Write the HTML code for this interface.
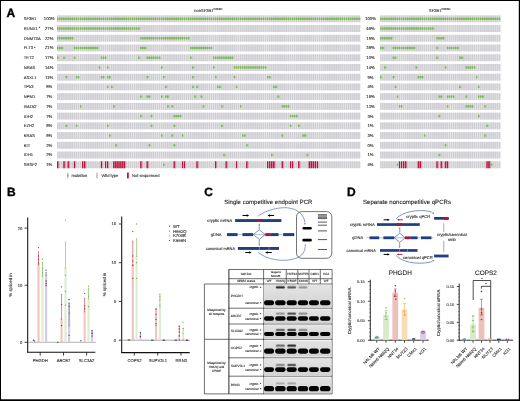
<!DOCTYPE html>
<html><head><meta charset="utf-8"><style>
html,body{margin:0;padding:0;background:#fff;}
svg{display:block;font-family:"Liberation Sans", sans-serif;will-change:transform;text-rendering:geometricPrecision;}
text{stroke:#222;stroke-width:0.1px;}
</style></head><body>
<svg width="520" height="401" viewBox="0 0 520 401">
<rect x="0" y="0" width="520" height="401" fill="#fff"/>
<defs>
<pattern id="gL" patternUnits="userSpaceOnUse" x="57.0" y="0" width="2.0781" height="401"><rect x="0" y="0" width="2.0781" height="401" fill="#e9e9eb"/><rect x="0" y="0" width="1.538" height="401" fill="#cfcfd4"/></pattern>
<pattern id="mL" patternUnits="userSpaceOnUse" x="57.0" y="0" width="2.0781" height="401"><rect x="0" y="0" width="1.662" height="401" fill="#76ba4c"/></pattern>
<pattern id="rL" patternUnits="userSpaceOnUse" x="57.0" y="0" width="2.0781" height="401"><rect x="0" y="0" width="1.538" height="401" fill="#c1123f"/></pattern>
<pattern id="gR" patternUnits="userSpaceOnUse" x="380.0" y="0" width="2.0828" height="401"><rect x="0" y="0" width="2.0828" height="401" fill="#e9e9eb"/><rect x="0" y="0" width="1.541" height="401" fill="#cfcfd4"/></pattern>
<pattern id="mR" patternUnits="userSpaceOnUse" x="380.0" y="0" width="2.0828" height="401"><rect x="0" y="0" width="1.666" height="401" fill="#76ba4c"/></pattern>
<pattern id="rR" patternUnits="userSpaceOnUse" x="380.0" y="0" width="2.0828" height="401"><rect x="0" y="0" width="1.541" height="401" fill="#c1123f"/></pattern>
</defs>
<rect x="57.0" y="15.30" width="303.40" height="7.0" fill="url(#gL)"/>
<rect x="380.0" y="15.30" width="120.80" height="7.0" fill="url(#gR)"/>
<rect x="57.000" y="17.65" width="303.400" height="2.3" fill="url(#mL)"/>
<rect x="380.000" y="17.65" width="120.800" height="2.3" fill="url(#mR)"/>
<text x="23.8" y="20.25" font-size="4.1" text-anchor="start" fill="#333" font-weight="normal" >SF3B1</text>
<text x="49.2" y="20.25" font-size="4.2" text-anchor="middle" fill="#333" font-weight="normal" >100%</text>
<text x="370.5" y="20.25" font-size="4.2" text-anchor="middle" fill="#333" font-weight="normal" >100%</text>
<rect x="57.0" y="25.03" width="303.40" height="7.0" fill="url(#gL)"/>
<rect x="380.0" y="25.03" width="120.80" height="7.0" fill="url(#gR)"/>
<rect x="57.000" y="27.38" width="83.123" height="2.3" fill="url(#mL)"/>
<rect x="380.000" y="27.38" width="54.152" height="2.3" fill="url(#mR)"/>
<text x="23.8" y="29.98" font-size="4.1" fill="#333">RUNX1<tspan font-size="3.4" dy="-0.9"> *</tspan></text>
<text x="49.2" y="29.98" font-size="4.2" text-anchor="middle" fill="#333" font-weight="normal" >27%</text>
<text x="370.5" y="29.98" font-size="4.2" text-anchor="middle" fill="#333" font-weight="normal" >46%</text>
<rect x="57.0" y="34.76" width="303.40" height="7.0" fill="url(#gL)"/>
<rect x="380.0" y="34.76" width="120.80" height="7.0" fill="url(#gR)"/>
<rect x="57.000" y="37.11" width="16.625" height="2.3" fill="url(#mL)"/>
<rect x="140.123" y="37.11" width="49.874" height="2.3" fill="url(#mL)"/>
<rect x="380.000" y="37.11" width="12.497" height="2.3" fill="url(#mR)"/>
<rect x="436.234" y="37.11" width="8.331" height="2.3" fill="url(#mR)"/>
<text x="23.8" y="39.71" font-size="4.1" text-anchor="start" fill="#333" font-weight="normal" >DNMT3A</text>
<text x="49.2" y="39.71" font-size="4.2" text-anchor="middle" fill="#333" font-weight="normal" >22%</text>
<text x="370.5" y="39.71" font-size="4.2" text-anchor="middle" fill="#333" font-weight="normal" >19%</text>
<rect x="57.0" y="44.49" width="303.40" height="7.0" fill="url(#gL)"/>
<rect x="380.0" y="44.49" width="120.80" height="7.0" fill="url(#gR)"/>
<rect x="57.000" y="46.84" width="6.234" height="2.3" fill="url(#mL)"/>
<rect x="73.625" y="46.84" width="24.937" height="2.3" fill="url(#mL)"/>
<rect x="140.123" y="46.84" width="6.234" height="2.3" fill="url(#mL)"/>
<rect x="189.997" y="46.84" width="22.859" height="2.3" fill="url(#mL)"/>
<rect x="380.000" y="46.84" width="4.166" height="2.3" fill="url(#mR)"/>
<rect x="392.497" y="46.84" width="22.910" height="2.3" fill="url(#mR)"/>
<rect x="436.234" y="46.84" width="2.083" height="2.3" fill="url(#mR)"/>
<rect x="446.648" y="46.84" width="12.497" height="2.3" fill="url(#mR)"/>
<text x="23.8" y="49.44" font-size="4.1" fill="#333">FLT3<tspan font-size="3.4" dy="-0.9"> *</tspan></text>
<text x="49.2" y="49.44" font-size="4.2" text-anchor="middle" fill="#333" font-weight="normal" >21%</text>
<text x="370.5" y="49.44" font-size="4.2" text-anchor="middle" fill="#333" font-weight="normal" >36%</text>
<rect x="57.0" y="54.22" width="303.40" height="7.0" fill="url(#gL)"/>
<rect x="380.0" y="54.22" width="120.80" height="7.0" fill="url(#gR)"/>
<rect x="57.000" y="56.57" width="2.078" height="2.3" fill="url(#mL)"/>
<rect x="63.234" y="56.57" width="2.078" height="2.3" fill="url(#mL)"/>
<rect x="73.625" y="56.57" width="2.078" height="2.3" fill="url(#mL)"/>
<rect x="100.640" y="56.57" width="6.234" height="2.3" fill="url(#mL)"/>
<rect x="138.045" y="56.57" width="2.078" height="2.3" fill="url(#mL)"/>
<rect x="146.358" y="56.57" width="14.547" height="2.3" fill="url(#mL)"/>
<rect x="189.997" y="56.57" width="2.078" height="2.3" fill="url(#mL)"/>
<rect x="212.856" y="56.57" width="20.781" height="2.3" fill="url(#mL)"/>
<rect x="392.497" y="56.57" width="4.166" height="2.3" fill="url(#mR)"/>
<rect x="436.234" y="56.57" width="2.083" height="2.3" fill="url(#mR)"/>
<rect x="459.145" y="56.57" width="4.166" height="2.3" fill="url(#mR)"/>
<text x="23.8" y="59.17" font-size="4.1" text-anchor="start" fill="#333" font-weight="normal" >TET2</text>
<text x="49.2" y="59.17" font-size="4.2" text-anchor="middle" fill="#333" font-weight="normal" >17%</text>
<text x="370.5" y="59.17" font-size="4.2" text-anchor="middle" fill="#333" font-weight="normal" >10%</text>
<rect x="57.0" y="63.95" width="303.40" height="7.0" fill="url(#gL)"/>
<rect x="380.0" y="63.95" width="120.80" height="7.0" fill="url(#gR)"/>
<rect x="98.562" y="66.30" width="2.078" height="2.3" fill="url(#mL)"/>
<rect x="106.874" y="66.30" width="2.078" height="2.3" fill="url(#mL)"/>
<rect x="160.904" y="66.30" width="2.078" height="2.3" fill="url(#mL)"/>
<rect x="192.075" y="66.30" width="2.078" height="2.3" fill="url(#mL)"/>
<rect x="212.856" y="66.30" width="2.078" height="2.3" fill="url(#mL)"/>
<rect x="233.637" y="66.30" width="33.249" height="2.3" fill="url(#mL)"/>
<rect x="384.166" y="66.30" width="2.083" height="2.3" fill="url(#mR)"/>
<rect x="415.407" y="66.30" width="2.083" height="2.3" fill="url(#mR)"/>
<rect x="444.566" y="66.30" width="2.083" height="2.3" fill="url(#mR)"/>
<rect x="465.393" y="66.30" width="10.414" height="2.3" fill="url(#mR)"/>
<text x="23.8" y="68.90" font-size="4.1" text-anchor="start" fill="#333" font-weight="normal" >NRAS</text>
<text x="49.2" y="68.90" font-size="4.2" text-anchor="middle" fill="#333" font-weight="normal" >14%</text>
<text x="370.5" y="68.90" font-size="4.2" text-anchor="middle" fill="#333" font-weight="normal" >14%</text>
<rect x="57.0" y="73.68" width="303.40" height="7.0" fill="url(#gL)"/>
<rect x="380.0" y="73.68" width="120.80" height="7.0" fill="url(#gR)"/>
<rect x="65.312" y="76.03" width="2.078" height="2.3" fill="url(#mL)"/>
<rect x="75.703" y="76.03" width="4.156" height="2.3" fill="url(#mL)"/>
<rect x="100.640" y="76.03" width="4.156" height="2.3" fill="url(#mL)"/>
<rect x="106.874" y="76.03" width="4.156" height="2.3" fill="url(#mL)"/>
<rect x="146.358" y="76.03" width="2.078" height="2.3" fill="url(#mL)"/>
<rect x="162.982" y="76.03" width="2.078" height="2.3" fill="url(#mL)"/>
<rect x="192.075" y="76.03" width="2.078" height="2.3" fill="url(#mL)"/>
<rect x="214.934" y="76.03" width="2.078" height="2.3" fill="url(#mL)"/>
<rect x="233.637" y="76.03" width="2.078" height="2.3" fill="url(#mL)"/>
<rect x="266.886" y="76.03" width="4.156" height="2.3" fill="url(#mL)"/>
<rect x="380.000" y="76.03" width="2.083" height="2.3" fill="url(#mR)"/>
<rect x="392.497" y="76.03" width="2.083" height="2.3" fill="url(#mR)"/>
<rect x="417.490" y="76.03" width="6.248" height="2.3" fill="url(#mR)"/>
<rect x="475.807" y="76.03" width="2.083" height="2.3" fill="url(#mR)"/>
<text x="23.8" y="78.63" font-size="4.1" text-anchor="start" fill="#333" font-weight="normal" >ASXL1</text>
<text x="49.2" y="78.63" font-size="4.2" text-anchor="middle" fill="#333" font-weight="normal" >11%</text>
<text x="370.5" y="78.63" font-size="4.2" text-anchor="middle" fill="#333" font-weight="normal" >9%</text>
<rect x="57.0" y="83.41" width="303.40" height="7.0" fill="url(#gL)"/>
<rect x="380.0" y="83.41" width="120.80" height="7.0" fill="url(#gR)"/>
<rect x="106.874" y="85.76" width="2.078" height="2.3" fill="url(#mL)"/>
<rect x="111.030" y="85.76" width="2.078" height="2.3" fill="url(#mL)"/>
<rect x="165.060" y="85.76" width="2.078" height="2.3" fill="url(#mL)"/>
<rect x="192.075" y="85.76" width="2.078" height="2.3" fill="url(#mL)"/>
<rect x="196.232" y="85.76" width="2.078" height="2.3" fill="url(#mL)"/>
<rect x="217.012" y="85.76" width="4.156" height="2.3" fill="url(#mL)"/>
<rect x="235.715" y="85.76" width="2.078" height="2.3" fill="url(#mL)"/>
<rect x="273.121" y="85.76" width="4.156" height="2.3" fill="url(#mL)"/>
<rect x="394.579" y="85.76" width="2.083" height="2.3" fill="url(#mR)"/>
<rect x="459.145" y="85.76" width="2.083" height="2.3" fill="url(#mR)"/>
<rect x="477.890" y="85.76" width="2.083" height="2.3" fill="url(#mR)"/>
<text x="23.8" y="88.36" font-size="4.1" text-anchor="start" fill="#333" font-weight="normal" >TP53</text>
<text x="49.2" y="88.36" font-size="4.2" text-anchor="middle" fill="#333" font-weight="normal" >8%</text>
<text x="370.5" y="88.36" font-size="4.2" text-anchor="middle" fill="#333" font-weight="normal" >4%</text>
<rect x="57.0" y="93.14" width="303.40" height="7.0" fill="url(#gL)"/>
<rect x="380.0" y="93.14" width="120.80" height="7.0" fill="url(#gR)"/>
<rect x="140.123" y="95.49" width="2.078" height="2.3" fill="url(#mL)"/>
<rect x="146.358" y="95.49" width="4.156" height="2.3" fill="url(#mL)"/>
<rect x="160.904" y="95.49" width="2.078" height="2.3" fill="url(#mL)"/>
<rect x="165.060" y="95.49" width="4.156" height="2.3" fill="url(#mL)"/>
<rect x="194.153" y="95.49" width="2.078" height="2.3" fill="url(#mL)"/>
<rect x="200.388" y="95.49" width="2.078" height="2.3" fill="url(#mL)"/>
<rect x="277.277" y="95.49" width="2.078" height="2.3" fill="url(#mL)"/>
<rect x="396.662" y="95.49" width="2.083" height="2.3" fill="url(#mR)"/>
<rect x="438.317" y="95.49" width="4.166" height="2.3" fill="url(#mR)"/>
<rect x="446.648" y="95.49" width="8.331" height="2.3" fill="url(#mR)"/>
<rect x="465.393" y="95.49" width="2.083" height="2.3" fill="url(#mR)"/>
<rect x="477.890" y="95.49" width="6.248" height="2.3" fill="url(#mR)"/>
<text x="23.8" y="98.09" font-size="4.1" text-anchor="start" fill="#333" font-weight="normal" >NPM1</text>
<text x="49.2" y="98.09" font-size="4.2" text-anchor="middle" fill="#333" font-weight="normal" >7%</text>
<text x="370.5" y="98.09" font-size="4.2" text-anchor="middle" fill="#333" font-weight="normal" >16%</text>
<rect x="57.0" y="102.87" width="303.40" height="7.0" fill="url(#gL)"/>
<rect x="380.0" y="102.87" width="120.80" height="7.0" fill="url(#gR)"/>
<rect x="79.859" y="105.22" width="2.078" height="2.3" fill="url(#mL)"/>
<rect x="113.108" y="105.22" width="2.078" height="2.3" fill="url(#mL)"/>
<rect x="167.138" y="105.22" width="2.078" height="2.3" fill="url(#mL)"/>
<rect x="171.295" y="105.22" width="2.078" height="2.3" fill="url(#mL)"/>
<rect x="202.466" y="105.22" width="2.078" height="2.3" fill="url(#mL)"/>
<rect x="221.168" y="105.22" width="2.078" height="2.3" fill="url(#mL)"/>
<rect x="239.871" y="105.22" width="2.078" height="2.3" fill="url(#mL)"/>
<rect x="281.433" y="105.22" width="8.312" height="2.3" fill="url(#mL)"/>
<rect x="398.745" y="105.22" width="4.166" height="2.3" fill="url(#mR)"/>
<rect x="446.648" y="105.22" width="2.083" height="2.3" fill="url(#mR)"/>
<rect x="465.393" y="105.22" width="8.331" height="2.3" fill="url(#mR)"/>
<rect x="484.138" y="105.22" width="2.083" height="2.3" fill="url(#mR)"/>
<text x="23.8" y="107.82" font-size="4.1" text-anchor="start" fill="#333" font-weight="normal" >GATA2</text>
<text x="49.2" y="107.82" font-size="4.2" text-anchor="middle" fill="#333" font-weight="normal" >7%</text>
<text x="370.5" y="107.82" font-size="4.2" text-anchor="middle" fill="#333" font-weight="normal" >13%</text>
<rect x="57.0" y="112.60" width="303.40" height="7.0" fill="url(#gL)"/>
<rect x="380.0" y="112.60" width="120.80" height="7.0" fill="url(#gR)"/>
<rect x="140.123" y="114.95" width="2.078" height="2.3" fill="url(#mL)"/>
<rect x="150.514" y="114.95" width="2.078" height="2.3" fill="url(#mL)"/>
<rect x="173.373" y="114.95" width="8.312" height="2.3" fill="url(#mL)"/>
<rect x="289.745" y="114.95" width="8.312" height="2.3" fill="url(#mL)"/>
<rect x="438.317" y="114.95" width="2.083" height="2.3" fill="url(#mR)"/>
<rect x="477.890" y="114.95" width="2.083" height="2.3" fill="url(#mR)"/>
<text x="23.8" y="117.55" font-size="4.1" text-anchor="start" fill="#333" font-weight="normal" >IDH2</text>
<text x="49.2" y="117.55" font-size="4.2" text-anchor="middle" fill="#333" font-weight="normal" >7%</text>
<text x="370.5" y="117.55" font-size="4.2" text-anchor="middle" fill="#333" font-weight="normal" >3%</text>
<rect x="57.0" y="122.33" width="303.40" height="7.0" fill="url(#gL)"/>
<rect x="380.0" y="122.33" width="120.80" height="7.0" fill="url(#gR)"/>
<rect x="65.312" y="124.68" width="2.078" height="2.3" fill="url(#mL)"/>
<rect x="75.703" y="124.68" width="2.078" height="2.3" fill="url(#mL)"/>
<rect x="106.874" y="124.68" width="2.078" height="2.3" fill="url(#mL)"/>
<rect x="150.514" y="124.68" width="2.078" height="2.3" fill="url(#mL)"/>
<rect x="173.373" y="124.68" width="2.078" height="2.3" fill="url(#mL)"/>
<rect x="221.168" y="124.68" width="2.078" height="2.3" fill="url(#mL)"/>
<rect x="289.745" y="124.68" width="2.078" height="2.3" fill="url(#mL)"/>
<rect x="298.058" y="124.68" width="2.078" height="2.3" fill="url(#mL)"/>
<rect x="486.221" y="124.68" width="2.083" height="2.3" fill="url(#mR)"/>
<text x="23.8" y="127.28" font-size="4.1" text-anchor="start" fill="#333" font-weight="normal" >EZH2</text>
<text x="49.2" y="127.28" font-size="4.2" text-anchor="middle" fill="#333" font-weight="normal" >6%</text>
<text x="370.5" y="127.28" font-size="4.2" text-anchor="middle" fill="#333" font-weight="normal" >1%</text>
<rect x="57.0" y="132.06" width="303.40" height="7.0" fill="url(#gL)"/>
<rect x="380.0" y="132.06" width="120.80" height="7.0" fill="url(#gR)"/>
<rect x="108.952" y="134.41" width="2.078" height="2.3" fill="url(#mL)"/>
<rect x="160.904" y="134.41" width="2.078" height="2.3" fill="url(#mL)"/>
<rect x="171.295" y="134.41" width="2.078" height="2.3" fill="url(#mL)"/>
<rect x="181.685" y="134.41" width="2.078" height="2.3" fill="url(#mL)"/>
<rect x="241.949" y="134.41" width="4.156" height="2.3" fill="url(#mL)"/>
<rect x="281.433" y="134.41" width="2.078" height="2.3" fill="url(#mL)"/>
<rect x="302.214" y="134.41" width="4.156" height="2.3" fill="url(#mL)"/>
<rect x="423.738" y="134.41" width="2.083" height="2.3" fill="url(#mR)"/>
<rect x="484.138" y="134.41" width="2.083" height="2.3" fill="url(#mR)"/>
<text x="23.8" y="137.01" font-size="4.1" text-anchor="start" fill="#333" font-weight="normal" >KRAS</text>
<text x="49.2" y="137.01" font-size="4.2" text-anchor="middle" fill="#333" font-weight="normal" >6%</text>
<text x="370.5" y="137.01" font-size="4.2" text-anchor="middle" fill="#333" font-weight="normal" >3%</text>
<rect x="57.0" y="141.79" width="303.40" height="7.0" fill="url(#gL)"/>
<rect x="380.0" y="141.79" width="120.80" height="7.0" fill="url(#gR)"/>
<rect x="115.186" y="144.14" width="2.078" height="2.3" fill="url(#mL)"/>
<rect x="148.436" y="144.14" width="2.078" height="2.3" fill="url(#mL)"/>
<rect x="173.373" y="144.14" width="2.078" height="2.3" fill="url(#mL)"/>
<rect x="246.105" y="144.14" width="2.078" height="2.3" fill="url(#mL)"/>
<rect x="444.566" y="144.14" width="2.083" height="2.3" fill="url(#mR)"/>
<text x="23.8" y="146.74" font-size="4.1" text-anchor="start" fill="#333" font-weight="normal" >KIT</text>
<text x="49.2" y="146.74" font-size="4.2" text-anchor="middle" fill="#333" font-weight="normal" >2%</text>
<text x="370.5" y="146.74" font-size="4.2" text-anchor="middle" fill="#333" font-weight="normal" >0%</text>
<rect x="57.0" y="151.52" width="303.40" height="7.0" fill="url(#gL)"/>
<rect x="380.0" y="151.52" width="120.80" height="7.0" fill="url(#gR)"/>
<rect x="223.247" y="153.87" width="2.078" height="2.3" fill="url(#mL)"/>
<rect x="271.042" y="153.87" width="2.078" height="2.3" fill="url(#mL)"/>
<rect x="306.370" y="153.87" width="2.078" height="2.3" fill="url(#mL)"/>
<rect x="438.317" y="153.87" width="2.083" height="2.3" fill="url(#mR)"/>
<text x="23.8" y="156.47" font-size="4.1" text-anchor="start" fill="#333" font-weight="normal" >IDH1</text>
<text x="49.2" y="156.47" font-size="4.2" text-anchor="middle" fill="#333" font-weight="normal" >2%</text>
<text x="370.5" y="156.47" font-size="4.2" text-anchor="middle" fill="#333" font-weight="normal" >1%</text>
<rect x="57.0" y="161.25" width="303.40" height="7.0" fill="url(#gL)"/>
<rect x="380.0" y="161.25" width="120.80" height="7.0" fill="url(#gR)"/>
<rect x="57.000" y="161.25" width="2.078" height="7.0" fill="url(#rL)"/>
<rect x="63.234" y="161.25" width="2.078" height="7.0" fill="url(#rL)"/>
<rect x="67.390" y="161.25" width="2.078" height="7.0" fill="url(#rL)"/>
<rect x="73.625" y="161.25" width="2.078" height="7.0" fill="url(#rL)"/>
<rect x="81.937" y="161.25" width="4.156" height="7.0" fill="url(#rL)"/>
<rect x="100.640" y="161.25" width="2.078" height="7.0" fill="url(#rL)"/>
<rect x="104.796" y="161.25" width="4.156" height="7.0" fill="url(#rL)"/>
<rect x="113.108" y="161.25" width="12.468" height="7.0" fill="url(#rL)"/>
<rect x="140.123" y="161.25" width="2.078" height="7.0" fill="url(#rL)"/>
<rect x="146.358" y="161.25" width="2.078" height="7.0" fill="url(#rL)"/>
<rect x="173.373" y="161.25" width="2.078" height="7.0" fill="url(#rL)"/>
<rect x="181.685" y="161.25" width="4.156" height="7.0" fill="url(#rL)"/>
<rect x="196.232" y="161.25" width="2.078" height="7.0" fill="url(#rL)"/>
<rect x="214.934" y="161.25" width="2.078" height="7.0" fill="url(#rL)"/>
<rect x="225.325" y="161.25" width="2.078" height="7.0" fill="url(#rL)"/>
<rect x="235.715" y="161.25" width="2.078" height="7.0" fill="url(#rL)"/>
<rect x="246.105" y="161.25" width="2.078" height="7.0" fill="url(#rL)"/>
<rect x="266.886" y="161.25" width="8.312" height="7.0" fill="url(#rL)"/>
<rect x="281.433" y="161.25" width="2.078" height="7.0" fill="url(#rL)"/>
<rect x="289.745" y="161.25" width="4.156" height="7.0" fill="url(#rL)"/>
<rect x="298.058" y="161.25" width="2.078" height="7.0" fill="url(#rL)"/>
<rect x="308.448" y="161.25" width="10.390" height="7.0" fill="url(#rL)"/>
<rect x="162.982" y="163.60" width="2.078" height="2.3" fill="url(#mL)"/>
<rect x="398.745" y="161.25" width="8.331" height="7.0" fill="url(#rR)"/>
<rect x="417.490" y="161.25" width="4.166" height="7.0" fill="url(#rR)"/>
<rect x="436.234" y="161.25" width="2.083" height="7.0" fill="url(#rR)"/>
<rect x="440.400" y="161.25" width="2.083" height="7.0" fill="url(#rR)"/>
<rect x="444.566" y="161.25" width="4.166" height="7.0" fill="url(#rR)"/>
<rect x="486.221" y="161.25" width="4.166" height="7.0" fill="url(#rR)"/>
<rect x="396.662" y="163.60" width="2.083" height="2.3" fill="url(#mR)"/>
<rect x="490.386" y="163.60" width="2.083" height="2.3" fill="url(#mR)"/>
<text x="23.8" y="166.20" font-size="4.1" text-anchor="start" fill="#333" font-weight="normal" >SRSF2</text>
<text x="49.2" y="166.20" font-size="4.2" text-anchor="middle" fill="#333" font-weight="normal" >1%</text>
<text x="370.5" y="166.20" font-size="4.2" text-anchor="middle" fill="#333" font-weight="normal" >4%</text>
<text x="194.2" y="12" font-size="4.1" fill="#333">nonSF3B1<tspan font-size="2.9" dy="-2.2">K666N</tspan></text>
<text x="429" y="12.4" font-size="4.1" fill="#333">SF3B1<tspan font-size="2.9" dy="-2.2">K666N</tspan></text>
<rect x="67" y="172.6" width="1.5" height="5.8" fill="#cfcfd4"/><rect x="67" y="174.4" width="1.5" height="2.2" fill="#76ba4c"/>
<text x="71.5" y="177.0" font-size="4.1" text-anchor="start" fill="#333" font-weight="normal" >mutation</text>
<rect x="96.2" y="172.6" width="1.5" height="5.8" fill="#bdbdc2"/>
<text x="101.5" y="177.0" font-size="4.1" text-anchor="start" fill="#333" font-weight="normal" >Wild type</text>
<rect x="127" y="172.6" width="1.8" height="5.8" fill="#c1123f"/>
<text x="132" y="177.0" font-size="4.1" text-anchor="start" fill="#333" font-weight="normal" >Not sequenced</text>
<text x="6.5" y="16.5" font-size="12" font-weight="bold" fill="#000" style="stroke:#000;stroke-width:0.35px">A</text>
<text x="6.9" y="196.1" font-size="12" font-weight="bold" fill="#000" style="stroke:#000;stroke-width:0.35px">B</text>
<text x="204.3" y="195.8" font-size="12" font-weight="bold" fill="#000" style="stroke:#000;stroke-width:0.35px">C</text>
<text x="346.9" y="195.6" font-size="12" font-weight="bold" fill="#000" style="stroke:#000;stroke-width:0.35px">D</text>
<line x1="27.7" y1="217.4" x2="27.7" y2="352.6" stroke="#111" stroke-width="1.05"/>
<line x1="27.25" y1="352.2" x2="95.4" y2="352.2" stroke="#111" stroke-width="1.05"/>
<line x1="24.6" y1="228.1" x2="27.7" y2="228.1" stroke="#111" stroke-width="0.8"/>
<text x="22.4" y="229.54999999999998" font-size="4.15" text-anchor="end" fill="#333" font-weight="normal" >20</text>
<line x1="24.6" y1="285.2" x2="27.7" y2="285.2" stroke="#111" stroke-width="0.8"/>
<text x="22.4" y="286.65" font-size="4.15" text-anchor="end" fill="#333" font-weight="normal" >10</text>
<line x1="24.6" y1="342.3" x2="27.7" y2="342.3" stroke="#111" stroke-width="0.8"/>
<text x="22.4" y="343.75" font-size="4.15" text-anchor="end" fill="#333" font-weight="normal" >0</text>
<line x1="27.7" y1="342.3" x2="95.8" y2="342.3" stroke="#808080" stroke-width="0.6"/>
<line x1="40.2" y1="352.2" x2="40.2" y2="355.6" stroke="#111" stroke-width="0.8"/>
<text x="40.2" y="361.8" font-size="4.2" text-anchor="middle" fill="#333" font-weight="normal" >PHGDH</text>
<line x1="63.5" y1="352.2" x2="63.5" y2="355.6" stroke="#111" stroke-width="0.8"/>
<text x="63.5" y="361.8" font-size="4.2" text-anchor="middle" fill="#333" font-weight="normal" >ABCB7</text>
<line x1="86.6" y1="352.2" x2="86.6" y2="355.6" stroke="#111" stroke-width="0.8"/>
<text x="86.6" y="361.8" font-size="4.2" text-anchor="middle" fill="#333" font-weight="normal" >SLC3A2</text>
<text x="0" y="0" font-size="4.4" fill="#333" text-anchor="middle" transform="translate(11.7,285) rotate(-90)">% spliced in</text>
<rect x="37.4" y="263.7" width="2.2" height="78.60" fill="#efc6bd"/>
<line x1="38.5" y1="251.8" x2="38.5" y2="265.2" stroke="#c0203c" stroke-width="0.55"/>
<line x1="37.9" y1="251.8" x2="39.1" y2="251.8" stroke="#c0203c" stroke-width="0.5"/>
<circle cx="38.5" cy="247.6" r="0.65" fill="#c0203c"/>
<circle cx="38.5" cy="256" r="0.65" fill="#c0203c"/>
<circle cx="38.5" cy="259.5" r="0.65" fill="#c0203c"/>
<circle cx="38.5" cy="263" r="0.65" fill="#c0203c"/>
<rect x="41.4" y="273.3" width="2.2" height="69.00" fill="#deedcf"/>
<line x1="42.5" y1="262.0" x2="42.5" y2="274.8" stroke="#6cb33f" stroke-width="0.55"/>
<line x1="41.9" y1="262.0" x2="43.1" y2="262.0" stroke="#6cb33f" stroke-width="0.5"/>
<circle cx="42.5" cy="259" r="0.65" fill="#6cb33f"/>
<circle cx="42.5" cy="268.5" r="0.65" fill="#6cb33f"/>
<circle cx="42.5" cy="272.7" r="0.65" fill="#6cb33f"/>
<circle cx="42.5" cy="276" r="0.65" fill="#6cb33f"/>
<rect x="45.0" y="274.5" width="2.2" height="67.80" fill="#d6cbe5"/>
<line x1="46.1" y1="272.5" x2="46.1" y2="276.0" stroke="#4a2a85" stroke-width="0.55"/>
<line x1="45.5" y1="272.5" x2="46.7" y2="272.5" stroke="#4a2a85" stroke-width="0.5"/>
<circle cx="46.1" cy="270.2" r="0.65" fill="#4a2a85"/>
<circle cx="46.1" cy="281" r="0.65" fill="#4a2a85"/>
<circle cx="46.1" cy="283.5" r="0.65" fill="#4a2a85"/>
<circle cx="46.1" cy="285.5" r="0.65" fill="#4a2a85"/>
<circle cx="33.4" cy="340.2" r="0.7" fill="#2d4d9c"/>
<circle cx="34.6" cy="340.9" r="0.7" fill="#2d4d9c"/>
<rect x="60.5" y="318.2" width="2.1" height="24.10" fill="#efc6bd"/>
<line x1="61.55" y1="294.3" x2="61.55" y2="319.7" stroke="#c0203c" stroke-width="0.55"/>
<line x1="60.949999999999996" y1="294.3" x2="62.15" y2="294.3" stroke="#c0203c" stroke-width="0.5"/>
<circle cx="61.55" cy="286.8" r="0.65" fill="#c0203c"/>
<circle cx="61.55" cy="304.4" r="0.65" fill="#c0203c"/>
<circle cx="61.55" cy="325.5" r="0.65" fill="#c0203c"/>
<rect x="64.4" y="267.4" width="2.2" height="74.90" fill="#deedcf"/>
<line x1="65.5" y1="242.0" x2="65.5" y2="268.9" stroke="#6cb33f" stroke-width="0.55"/>
<line x1="64.9" y1="242.0" x2="66.1" y2="242.0" stroke="#6cb33f" stroke-width="0.5"/>
<circle cx="65.5" cy="220.2" r="0.65" fill="#6cb33f"/>
<circle cx="65.5" cy="275.2" r="0.65" fill="#6cb33f"/>
<circle cx="65.5" cy="291.4" r="0.65" fill="#6cb33f"/>
<circle cx="65.5" cy="305.2" r="0.65" fill="#6cb33f"/>
<rect x="68.0" y="312.5" width="2.2" height="29.80" fill="#d6cbe5"/>
<line x1="69.1" y1="302.8" x2="69.1" y2="314.0" stroke="#4a2a85" stroke-width="0.55"/>
<line x1="68.5" y1="302.8" x2="69.69999999999999" y2="302.8" stroke="#4a2a85" stroke-width="0.5"/>
<circle cx="69.1" cy="299.5" r="0.65" fill="#4a2a85"/>
<circle cx="69.1" cy="306.3" r="0.65" fill="#4a2a85"/>
<circle cx="69.1" cy="335.3" r="0.65" fill="#4a2a85"/>
<line x1="69.1" y1="302.8" x2="69.1" y2="327" stroke="#7d62a8" stroke-width="0.5"/>
<circle cx="57.7" cy="342.2" r="0.7" fill="#2d4d9c"/>
<rect x="83.6" y="310.8" width="2.1" height="31.50" fill="#efc6bd"/>
<line x1="84.64999999999999" y1="298.2" x2="84.64999999999999" y2="312.3" stroke="#c0203c" stroke-width="0.55"/>
<line x1="84.05" y1="298.2" x2="85.24999999999999" y2="298.2" stroke="#c0203c" stroke-width="0.5"/>
<circle cx="84.64999999999999" cy="293.3" r="0.65" fill="#c0203c"/>
<circle cx="84.64999999999999" cy="306" r="0.65" fill="#c0203c"/>
<circle cx="84.64999999999999" cy="309" r="0.65" fill="#c0203c"/>
<rect x="87.4" y="298.0" width="2.2" height="44.30" fill="#deedcf"/>
<line x1="88.5" y1="288.0" x2="88.5" y2="299.5" stroke="#6cb33f" stroke-width="0.55"/>
<line x1="87.9" y1="288.0" x2="89.1" y2="288.0" stroke="#6cb33f" stroke-width="0.5"/>
<circle cx="88.5" cy="286.2" r="0.65" fill="#6cb33f"/>
<circle cx="88.5" cy="296.2" r="0.65" fill="#6cb33f"/>
<circle cx="88.5" cy="306.7" r="0.65" fill="#6cb33f"/>
<rect x="91.0" y="331.9" width="2.2" height="10.40" fill="#d6cbe5"/>
<line x1="92.1" y1="330.6" x2="92.1" y2="333.4" stroke="#4a2a85" stroke-width="0.55"/>
<line x1="91.5" y1="330.6" x2="92.69999999999999" y2="330.6" stroke="#4a2a85" stroke-width="0.5"/>
<circle cx="92.1" cy="330.6" r="0.65" fill="#4a2a85"/>
<circle cx="92.1" cy="333.5" r="0.65" fill="#4a2a85"/>
<circle cx="92.1" cy="336" r="0.65" fill="#4a2a85"/>
<circle cx="80.9" cy="340.8" r="0.7" fill="#2d4d9c"/>
<line x1="121.7" y1="216.4" x2="121.7" y2="353.0" stroke="#111" stroke-width="1.05"/>
<line x1="121.25" y1="352.6" x2="189.7" y2="352.6" stroke="#111" stroke-width="1.05"/>
<line x1="118.8" y1="224.0" x2="121.7" y2="224.0" stroke="#111" stroke-width="0.8"/>
<text x="116.0" y="225.45" font-size="4.15" text-anchor="end" fill="#333" font-weight="normal" >15</text>
<line x1="118.8" y1="262.7" x2="121.7" y2="262.7" stroke="#111" stroke-width="0.8"/>
<text x="116.0" y="264.15" font-size="4.15" text-anchor="end" fill="#333" font-weight="normal" >10</text>
<line x1="118.8" y1="301.4" x2="121.7" y2="301.4" stroke="#111" stroke-width="0.8"/>
<text x="116.0" y="302.84999999999997" font-size="4.15" text-anchor="end" fill="#333" font-weight="normal" >5</text>
<line x1="118.8" y1="340.2" x2="121.7" y2="340.2" stroke="#111" stroke-width="0.8"/>
<text x="116.0" y="341.65" font-size="4.15" text-anchor="end" fill="#333" font-weight="normal" >0</text>
<line x1="121.7" y1="340.2" x2="189.9" y2="340.2" stroke="#808080" stroke-width="0.7"/>
<line x1="134.3" y1="352.6" x2="134.3" y2="355.6" stroke="#111" stroke-width="0.8"/>
<text x="134.60000000000002" y="362.0" font-size="4.2" text-anchor="middle" fill="#333" font-weight="normal" >COPS2</text>
<line x1="157.7" y1="352.6" x2="157.7" y2="355.6" stroke="#111" stroke-width="0.8"/>
<text x="158.0" y="362.0" font-size="4.2" text-anchor="middle" fill="#333" font-weight="normal" >SUPV3L1</text>
<line x1="181.0" y1="352.6" x2="181.0" y2="355.6" stroke="#111" stroke-width="0.8"/>
<text x="181.3" y="362.0" font-size="4.2" text-anchor="middle" fill="#333" font-weight="normal" >RRN3</text>
<text x="0" y="0" font-size="4.4" fill="#333" text-anchor="middle" transform="translate(106.0,284.5) rotate(-90)">% spliced in</text>
<rect x="131.7" y="264.0" width="2.2" height="76.20" fill="#efc6bd"/>
<line x1="132.79999999999998" y1="241.1" x2="132.79999999999998" y2="265.5" stroke="#c0203c" stroke-width="0.55"/>
<line x1="132.2" y1="241.1" x2="133.39999999999998" y2="241.1" stroke="#c0203c" stroke-width="0.5"/>
<circle cx="132.79999999999998" cy="231.6" r="0.65" fill="#c0203c"/>
<circle cx="132.79999999999998" cy="256" r="0.65" fill="#c0203c"/>
<circle cx="132.79999999999998" cy="261" r="0.65" fill="#c0203c"/>
<circle cx="132.79999999999998" cy="265.5" r="0.65" fill="#c0203c"/>
<circle cx="132.79999999999998" cy="278.3" r="0.65" fill="#c0203c"/>
<rect x="135.5" y="255.5" width="2.1" height="84.70" fill="#deedcf"/>
<line x1="136.55" y1="238.7" x2="136.55" y2="257.0" stroke="#6cb33f" stroke-width="0.55"/>
<line x1="135.95000000000002" y1="238.7" x2="137.15" y2="238.7" stroke="#6cb33f" stroke-width="0.5"/>
<circle cx="136.55" cy="224.0" r="0.65" fill="#6cb33f"/>
<circle cx="136.55" cy="262.7" r="0.65" fill="#6cb33f"/>
<circle cx="136.55" cy="278.3" r="0.65" fill="#6cb33f"/>
<rect x="139.6" y="336.0" width="1.6" height="4.20" fill="#d6cbe5"/>
<line x1="140.4" y1="333.0" x2="140.4" y2="337.5" stroke="#4a2a85" stroke-width="0.55"/>
<line x1="139.8" y1="333.0" x2="141.0" y2="333.0" stroke="#4a2a85" stroke-width="0.5"/>
<circle cx="140.4" cy="332.3" r="0.65" fill="#4a2a85"/>
<circle cx="140.4" cy="336.5" r="0.65" fill="#4a2a85"/>
<circle cx="128.3" cy="339.9" r="0.7" fill="#2d4d9c"/>
<circle cx="129.6" cy="339.9" r="0.7" fill="#2d4d9c"/>
<rect x="155.0" y="324.7" width="2.0" height="15.50" fill="#efc6bd"/>
<line x1="156.0" y1="309.0" x2="156.0" y2="326.2" stroke="#c0203c" stroke-width="0.55"/>
<line x1="155.4" y1="309.0" x2="156.6" y2="309.0" stroke="#c0203c" stroke-width="0.5"/>
<circle cx="156.0" cy="309" r="0.65" fill="#c0203c"/>
<circle cx="156.0" cy="314.2" r="0.65" fill="#c0203c"/>
<circle cx="156.0" cy="319.4" r="0.65" fill="#c0203c"/>
<circle cx="156.0" cy="323.6" r="0.65" fill="#c0203c"/>
<rect x="158.8" y="306.0" width="2.2" height="34.20" fill="#deedcf"/>
<line x1="159.9" y1="294.3" x2="159.9" y2="307.5" stroke="#6cb33f" stroke-width="0.55"/>
<line x1="159.3" y1="294.3" x2="160.5" y2="294.3" stroke="#6cb33f" stroke-width="0.5"/>
<circle cx="159.9" cy="294.3" r="0.65" fill="#6cb33f"/>
<circle cx="159.9" cy="297" r="0.65" fill="#6cb33f"/>
<circle cx="159.9" cy="300" r="0.65" fill="#6cb33f"/>
<circle cx="159.9" cy="305.2" r="0.65" fill="#6cb33f"/>
<circle cx="163.2" cy="340.2" r="0.7" fill="#4a2a85"/>
<circle cx="164.3" cy="340.2" r="0.7" fill="#4a2a85"/>
<circle cx="151.8" cy="340.2" r="0.7" fill="#2d4d9c"/>
<circle cx="152.9" cy="340.2" r="0.7" fill="#2d4d9c"/>
<rect x="178.5" y="335.0" width="1.6" height="5.20" fill="#efc6bd"/>
<line x1="179.3" y1="326.2" x2="179.3" y2="336.5" stroke="#c0203c" stroke-width="0.55"/>
<line x1="178.70000000000002" y1="326.2" x2="179.9" y2="326.2" stroke="#c0203c" stroke-width="0.5"/>
<circle cx="179.3" cy="326.2" r="0.65" fill="#c0203c"/>
<circle cx="179.3" cy="329" r="0.65" fill="#c0203c"/>
<circle cx="179.3" cy="332" r="0.65" fill="#c0203c"/>
<circle cx="179.3" cy="336" r="0.65" fill="#c0203c"/>
<circle cx="179.3" cy="340" r="0.65" fill="#c0203c"/>
<rect x="182.2" y="333.0" width="1.8" height="7.20" fill="#deedcf"/>
<line x1="183.1" y1="328.3" x2="183.1" y2="334.5" stroke="#6cb33f" stroke-width="0.55"/>
<line x1="182.5" y1="328.3" x2="183.7" y2="328.3" stroke="#6cb33f" stroke-width="0.5"/>
<circle cx="183.1" cy="322.2" r="0.65" fill="#6cb33f"/>
<circle cx="183.1" cy="328.3" r="0.65" fill="#6cb33f"/>
<circle cx="183.1" cy="340" r="0.65" fill="#6cb33f"/>
<circle cx="186.5" cy="340.2" r="0.7" fill="#4a2a85"/>
<circle cx="187.6" cy="340.2" r="0.7" fill="#4a2a85"/>
<circle cx="175.2" cy="340.2" r="0.7" fill="#2d4d9c"/>
<circle cx="176.3" cy="340.2" r="0.7" fill="#2d4d9c"/>
<circle cx="169.4" cy="226.2" r="0.6" fill="#2d4d9c"/>
<text x="173.0" y="227.75" font-size="4.3" text-anchor="start" fill="#333" font-weight="normal" >WT</text>
<circle cx="169.4" cy="231.0" r="0.6" fill="#c0203c"/>
<text x="173.0" y="232.55" font-size="4.3" text-anchor="start" fill="#333" font-weight="normal" >H662Q</text>
<circle cx="169.4" cy="235.79999999999998" r="0.6" fill="#6cb33f"/>
<text x="173.0" y="237.35" font-size="4.3" text-anchor="start" fill="#333" font-weight="normal" >K700E</text>
<circle cx="169.4" cy="240.6" r="0.6" fill="#4a2a85"/>
<text x="173.0" y="242.15" font-size="4.3" text-anchor="start" fill="#333" font-weight="normal" >K666N</text>
<text x="224.2" y="204.3" font-size="6.04" fill="#222">Single competitive endpoint PCR</text>
<text x="232.1" y="221.8" font-size="4.05" text-anchor="end" fill="#333" font-weight="normal" >cryptic mRNA</text>
<rect x="235.1" y="219.1" width="46.3" height="2.9" fill="#213f7d"/>
<rect x="256.7" y="219.1" width="5.3" height="2.9" fill="#b3122e"/>
<line x1="242.6" y1="215.5" x2="247.29999999999998" y2="215.5" stroke="#000" stroke-width="1.0"/>
<path d="M249.20,215.50 L246.73,216.64 L246.73,214.36 Z" fill="#000"/>
<line x1="274.1" y1="215.5" x2="269.4" y2="215.5" stroke="#000" stroke-width="1.0"/>
<path d="M267.50,215.50 L269.97,214.36 L269.97,216.64 Z" fill="#000"/>
<text x="221.5" y="235.7" font-size="4.05" text-anchor="end" fill="#333" font-weight="normal" >gDNA</text>
<line x1="227" y1="234.6" x2="294.5" y2="234.6" stroke="#8ea3c9" stroke-width="0.7"/>
<rect x="227" y="233.1" width="10.50" height="3.0" fill="#213f7d"/>
<rect x="242.5" y="233.1" width="10.50" height="3.0" fill="#213f7d"/>
<rect x="265.3" y="233.1" width="5.50" height="3.0" fill="#b3122e"/>
<rect x="270.8" y="233.1" width="7.80" height="3.0" fill="#213f7d"/>
<rect x="283.2" y="233.1" width="11.00" height="3.0" fill="#213f7d"/>
<path d="M253,234.6 L259.3,229.9 L265.3,234.6 L259.3,239.3 Z" fill="none" stroke="#213f7d" stroke-width="0.55"/>
<line x1="259.2" y1="229.4" x2="259.2" y2="224.8" stroke="#213f7d" stroke-width="0.55"/>
<path d="M259.20,223.40 L259.86,224.83 L258.54,224.83 Z" fill="#213f7d"/>
<line x1="259.2" y1="239.8" x2="259.2" y2="244.6" stroke="#213f7d" stroke-width="0.55"/>
<path d="M259.20,246.00 L258.54,244.57 L259.86,244.57 Z" fill="#213f7d"/>
<text x="235.1" y="250.1" font-size="3.95" text-anchor="end" fill="#333" font-weight="normal" >canonical mRNA</text>
<rect x="237.9" y="247.0" width="41.1" height="2.9" fill="#213f7d"/>
<line x1="259.3" y1="247" x2="259.3" y2="249.9" stroke="#fff" stroke-width="0.35"/>
<line x1="269.0" y1="247" x2="269.0" y2="249.9" stroke="#fff" stroke-width="0.35"/>
<line x1="245.2" y1="252.5" x2="249.7" y2="252.5" stroke="#000" stroke-width="1.0"/>
<path d="M251.60,252.50 L249.13,253.64 L249.13,251.36 Z" fill="#000"/>
<line x1="271.8" y1="252.5" x2="267.09999999999997" y2="252.5" stroke="#000" stroke-width="1.0"/>
<path d="M265.20,252.50 L267.67,251.36 L267.67,253.64 Z" fill="#000"/>
<path d="M258.1,216.1 C268,208.8 289,203.5 299.3,212.3 C302.6,215.3 304.6,218.5 304.9,222.6" fill="none" stroke="#3b5a98" stroke-width="0.6"/>
<path d="M305.00,225.00 L304.14,223.35 L305.69,223.27 Z" fill="#3b5a98"/>
<path d="M258.0,252.2 C266,259.5 285,263.5 298.5,257.3 C303.2,254.6 305.0,250.5 305.2,246.4" fill="none" stroke="#3b5a98" stroke-width="0.6"/>
<path d="M305.30,243.90 L305.99,245.63 L304.44,245.55 Z" fill="#3b5a98"/>
<rect x="296.5" y="211.6" width="35.3" height="46.7" rx="5.2" fill="none" stroke="#3a3a3a" stroke-width="0.7"/>
<rect x="302.4" y="226.9" width="9.4" height="2.6" rx="1.1" fill="#000"/>
<rect x="302.4" y="238.8" width="9.4" height="2.8" rx="1.1" fill="#000"/>
<line x1="317.9" y1="214.7" x2="327" y2="214.7" stroke="#222" stroke-width="0.75"/>
<line x1="317.9" y1="216.0" x2="327" y2="216.0" stroke="#222" stroke-width="0.75"/>
<line x1="317.9" y1="217.3" x2="327" y2="217.3" stroke="#222" stroke-width="0.75"/>
<line x1="317.9" y1="218.6" x2="327" y2="218.6" stroke="#222" stroke-width="0.75"/>
<line x1="317.9" y1="222.1" x2="327" y2="222.1" stroke="#222" stroke-width="0.75"/>
<line x1="317.9" y1="225.2" x2="327" y2="225.2" stroke="#222" stroke-width="0.75"/>
<line x1="317.9" y1="230.9" x2="327" y2="230.9" stroke="#222" stroke-width="0.75"/>
<line x1="317.9" y1="239.6" x2="327" y2="239.6" stroke="#222" stroke-width="0.75"/>
<line x1="317.9" y1="249.5" x2="327" y2="249.5" stroke="#222" stroke-width="0.75"/>
<line x1="228.6" y1="269.5" x2="332.1" y2="269.5" stroke="#222" stroke-width="0.65"/>
<line x1="228.6" y1="278.7" x2="332.1" y2="278.7" stroke="#222" stroke-width="0.65"/>
<line x1="204.4" y1="284.0" x2="332.1" y2="284.0" stroke="#222" stroke-width="0.65"/>
<line x1="228.9" y1="269.5" x2="228.9" y2="394.0" stroke="#222" stroke-width="0.95"/>
<line x1="263.6" y1="269.5" x2="263.6" y2="394.0" stroke="#222" stroke-width="0.65"/>
<line x1="332.1" y1="269.5" x2="332.1" y2="394.0" stroke="#222" stroke-width="0.65"/>
<line x1="204.4" y1="284.0" x2="204.4" y2="394.0" stroke="#222" stroke-width="0.65"/>
<line x1="286.25" y1="269.5" x2="286.25" y2="284.0" stroke="#222" stroke-width="0.65"/>
<line x1="297.8" y1="269.5" x2="297.8" y2="284.0" stroke="#222" stroke-width="0.65"/>
<line x1="309.0" y1="269.5" x2="309.0" y2="284.0" stroke="#222" stroke-width="0.65"/>
<line x1="320.3" y1="269.5" x2="320.3" y2="284.0" stroke="#222" stroke-width="0.65"/>
<line x1="228.6" y1="308.2" x2="332.1" y2="308.2" stroke="#222" stroke-width="0.65"/>
<line x1="228.6" y1="324.0" x2="332.1" y2="324.0" stroke="#222" stroke-width="0.65"/>
<line x1="204.4" y1="339.3" x2="332.1" y2="339.3" stroke="#222" stroke-width="0.65"/>
<line x1="228.6" y1="357.8" x2="332.1" y2="357.8" stroke="#222" stroke-width="0.65"/>
<line x1="228.6" y1="376.2" x2="332.1" y2="376.2" stroke="#222" stroke-width="0.65"/>
<line x1="204.4" y1="393.9" x2="332.1" y2="393.9" stroke="#222" stroke-width="0.65"/>
<text x="246.1" y="275.2" font-size="3.05" text-anchor="middle" fill="#333" font-weight="normal" >Cell line</text>
<text x="246.1" y="282.3" font-size="3.05" text-anchor="middle" fill="#333" font-weight="normal" >SF3B1 status</text>
<text x="276.0" y="273.3" font-size="2.75" text-anchor="middle" fill="#333" font-weight="normal" >Isogenic</text>
<text x="275.7" y="276.9" font-size="2.75" text-anchor="middle" fill="#333" font-weight="normal" >NALM6</text>
<text x="292.0" y="275.2" font-size="3.05" text-anchor="middle" fill="#333" font-weight="normal" >HNT34</text>
<text x="303.4" y="275.2" font-size="3.05" text-anchor="middle" fill="#333" font-weight="normal" >MUTZ3</text>
<text x="314.7" y="275.2" font-size="3.05" text-anchor="middle" fill="#333" font-weight="normal" >CMK1</text>
<text x="326.2" y="275.2" font-size="3.05" text-anchor="middle" fill="#333" font-weight="normal" >KG1</text>
<text x="269.0" y="282.3" font-size="3.05" text-anchor="middle" fill="#333" font-weight="normal" >WT</text>
<text x="280.6" y="282.3" font-size="3.05" text-anchor="middle" fill="#333" font-weight="normal" >H662Q</text>
<text x="292.0" y="282.3" font-size="3.05" text-anchor="middle" fill="#333" font-weight="normal" >K700E</text>
<text x="303.4" y="282.3" font-size="3.05" text-anchor="middle" fill="#333" font-weight="normal" >K666N</text>
<text x="314.7" y="282.3" font-size="3.05" text-anchor="middle" fill="#333" font-weight="normal" >WT</text>
<text x="326.2" y="282.3" font-size="3.05" text-anchor="middle" fill="#333" font-weight="normal" >WT</text>
<text x="216.5" y="311.2" font-size="3.05" text-anchor="middle" fill="#333" font-weight="normal" >Misspliced by</text>
<text x="216.5" y="315.2" font-size="3.05" text-anchor="middle" fill="#333" font-weight="normal" >all hotspots</text>
<text x="216.5" y="363.6" font-size="3.05" text-anchor="middle" fill="#333" font-weight="normal" >Misspliced by</text>
<text x="216.5" y="367.6" font-size="3.05" text-anchor="middle" fill="#333" font-weight="normal" >H662Q and</text>
<text x="216.5" y="371.6" font-size="3.05" text-anchor="middle" fill="#333" font-weight="normal" >K700E</text>
<defs><linearGradient id="gelbg" x1="0" y1="0" x2="0" y2="1"><stop offset="0" stop-color="#e4e4e4"/><stop offset="1" stop-color="#d2d2d2"/></linearGradient></defs>
<rect x="263.6" y="284.8" width="67.8" height="23.00" fill="url(#gelbg)"/>
<rect x="275.60" y="285.60" width="9.50" height="3.4" rx="1.5" fill="rgb(169,169,169)"/>
<rect x="276.00" y="286.40" width="8.70" height="1.8" rx="0.9" fill="rgb(48,48,48)"/>
<rect x="287.10" y="285.60" width="9.20" height="3.4" rx="1.5" fill="rgb(183,183,183)"/>
<rect x="287.50" y="286.40" width="8.40" height="1.8" rx="0.9" fill="rgb(92,92,92)"/>
<rect x="298.30" y="285.60" width="9.30" height="3.4" rx="1.5" fill="rgb(202,202,202)"/>
<rect x="298.70" y="286.40" width="8.50" height="1.8" rx="0.9" fill="rgb(153,153,153)"/>
<rect x="264.00" y="300.30" width="10.10" height="5.0" rx="2.50" fill="#050505"/>
<rect x="275.10" y="300.30" width="10.50" height="5.0" rx="2.50" fill="#050505"/>
<rect x="286.60" y="300.30" width="10.20" height="5.0" rx="2.50" fill="#050505"/>
<rect x="297.80" y="300.30" width="10.30" height="5.0" rx="2.50" fill="#050505"/>
<rect x="308.90" y="300.30" width="10.00" height="5.0" rx="2.50" fill="#050505"/>
<rect x="320.00" y="300.30" width="10.40" height="5.0" rx="2.50" fill="#050505"/>
<text x="230.8" y="296.5" font-size="3.25" text-anchor="start" fill="#333" font-weight="normal" >PHGDH</text>
<text x="258.4" y="288.40000000000003" font-size="3.1" text-anchor="end" fill="#333" font-weight="normal" >cryptic</text>
<text x="258.4" y="303.90000000000003" font-size="3.1" text-anchor="end" fill="#333" font-weight="normal" >canonical</text>
<path d="M259.60,287.30 L261.10,286.61 L261.10,287.99 Z" fill="#111"/>
<path d="M259.60,302.80 L261.10,302.11 L261.10,303.49 Z" fill="#111"/>
<rect x="263.6" y="309.3" width="67.8" height="13.70" fill="url(#gelbg)"/>
<rect x="275.60" y="311.90" width="9.50" height="3.4" rx="1.5" fill="rgb(202,202,202)"/>
<rect x="276.00" y="312.70" width="8.70" height="1.8" rx="0.9" fill="rgb(153,153,153)"/>
<rect x="287.10" y="311.90" width="9.20" height="3.4" rx="1.5" fill="rgb(180,180,180)"/>
<rect x="287.50" y="312.70" width="8.40" height="1.8" rx="0.9" fill="rgb(83,83,83)"/>
<rect x="298.30" y="311.90" width="9.30" height="3.4" rx="1.5" fill="rgb(200,200,200)"/>
<rect x="298.70" y="312.70" width="8.50" height="1.8" rx="0.9" fill="rgb(145,145,145)"/>
<rect x="264.00" y="316.30" width="10.10" height="4.4" rx="2.20" fill="#050505"/>
<rect x="275.10" y="316.30" width="10.50" height="4.4" rx="2.20" fill="#050505"/>
<rect x="286.60" y="316.30" width="10.20" height="4.4" rx="2.20" fill="#050505"/>
<rect x="297.80" y="316.30" width="10.30" height="4.4" rx="2.20" fill="#050505"/>
<rect x="308.90" y="316.30" width="10.00" height="4.4" rx="2.20" fill="#050505"/>
<rect x="320.00" y="316.30" width="10.40" height="4.4" rx="2.20" fill="#050505"/>
<text x="230.8" y="317.0" font-size="3.25" text-anchor="start" fill="#333" font-weight="normal" >ABCB7</text>
<text x="258.4" y="314.70000000000005" font-size="3.1" text-anchor="end" fill="#333" font-weight="normal" >cryptic</text>
<text x="258.4" y="319.6" font-size="3.1" text-anchor="end" fill="#333" font-weight="normal" >canonical</text>
<path d="M259.60,313.60 L261.10,312.91 L261.10,314.29 Z" fill="#111"/>
<path d="M259.60,318.50 L261.10,317.81 L261.10,319.19 Z" fill="#111"/>
<rect x="263.6" y="325.1" width="67.8" height="13.20" fill="url(#gelbg)"/>
<rect x="275.60" y="328.30" width="9.50" height="3.4" rx="1.5" fill="rgb(189,189,189)"/>
<rect x="276.00" y="329.10" width="8.70" height="1.8" rx="0.9" fill="rgb(110,110,110)"/>
<rect x="287.10" y="328.30" width="9.20" height="3.4" rx="1.5" fill="rgb(178,178,178)"/>
<rect x="287.50" y="329.10" width="8.40" height="1.8" rx="0.9" fill="rgb(75,75,75)"/>
<rect x="298.30" y="328.30" width="9.30" height="3.4" rx="1.5" fill="rgb(200,200,200)"/>
<rect x="298.70" y="329.10" width="8.50" height="1.8" rx="0.9" fill="rgb(145,145,145)"/>
<rect x="264.00" y="331.90" width="10.10" height="4.0" rx="2.00" fill="#050505"/>
<rect x="275.10" y="331.90" width="10.50" height="4.0" rx="2.00" fill="#050505"/>
<rect x="286.60" y="331.90" width="10.20" height="4.0" rx="2.00" fill="#050505"/>
<rect x="297.80" y="331.90" width="10.30" height="4.0" rx="2.00" fill="#050505"/>
<rect x="308.90" y="331.90" width="10.00" height="4.0" rx="2.00" fill="#050505"/>
<rect x="320.00" y="331.90" width="10.40" height="4.0" rx="2.00" fill="#050505"/>
<text x="230.8" y="332.3" font-size="3.25" text-anchor="start" fill="#333" font-weight="normal" >SLC3A2</text>
<text x="258.4" y="331.1" font-size="3.1" text-anchor="end" fill="#333" font-weight="normal" >cryptic</text>
<text x="258.4" y="335.0" font-size="3.1" text-anchor="end" fill="#333" font-weight="normal" >canonical</text>
<path d="M259.60,330.00 L261.10,329.31 L261.10,330.69 Z" fill="#111"/>
<path d="M259.60,333.90 L261.10,333.21 L261.10,334.59 Z" fill="#111"/>
<rect x="263.6" y="340.5" width="67.8" height="16.10" fill="url(#gelbg)"/>
<rect x="275.60" y="344.00" width="9.50" height="3.4" rx="1.5" fill="rgb(189,189,189)"/>
<rect x="276.00" y="344.80" width="8.70" height="1.8" rx="0.9" fill="rgb(110,110,110)"/>
<rect x="287.10" y="344.00" width="9.20" height="3.4" rx="1.5" fill="rgb(169,169,169)"/>
<rect x="287.50" y="344.80" width="8.40" height="1.8" rx="0.9" fill="rgb(48,48,48)"/>
<rect x="264.00" y="348.40" width="10.10" height="5.4" rx="2.70" fill="#050505"/>
<rect x="275.10" y="348.40" width="10.50" height="5.4" rx="2.70" fill="#050505"/>
<rect x="286.60" y="348.40" width="10.20" height="5.4" rx="2.70" fill="#050505"/>
<rect x="297.80" y="348.40" width="10.30" height="5.4" rx="2.70" fill="#050505"/>
<rect x="308.90" y="348.40" width="10.00" height="5.4" rx="2.70" fill="#050505"/>
<rect x="320.00" y="348.40" width="10.40" height="5.4" rx="2.70" fill="#050505"/>
<text x="230.8" y="348.8" font-size="3.25" text-anchor="start" fill="#333" font-weight="normal" >COPS2</text>
<text x="258.4" y="346.8" font-size="3.1" text-anchor="end" fill="#333" font-weight="normal" >cryptic</text>
<text x="258.4" y="352.20000000000005" font-size="3.1" text-anchor="end" fill="#333" font-weight="normal" >canonical</text>
<path d="M259.60,345.70 L261.10,345.01 L261.10,346.39 Z" fill="#111"/>
<path d="M259.60,351.10 L261.10,350.41 L261.10,351.79 Z" fill="#111"/>
<rect x="263.6" y="358.9" width="67.8" height="16.40" fill="url(#gelbg)"/>
<rect x="275.60" y="363.30" width="9.50" height="3.4" rx="1.5" fill="rgb(200,200,200)"/>
<rect x="276.00" y="364.10" width="8.70" height="1.8" rx="0.9" fill="rgb(145,145,145)"/>
<rect x="287.10" y="363.30" width="9.20" height="3.4" rx="1.5" fill="rgb(183,183,183)"/>
<rect x="287.50" y="364.10" width="8.40" height="1.8" rx="0.9" fill="rgb(92,92,92)"/>
<rect x="264.00" y="367.30" width="10.10" height="4.6" rx="2.30" fill="#050505"/>
<rect x="275.10" y="367.30" width="10.50" height="4.6" rx="2.30" fill="#050505"/>
<rect x="286.60" y="367.30" width="10.20" height="4.6" rx="2.30" fill="#050505"/>
<rect x="297.80" y="367.30" width="10.30" height="4.6" rx="2.30" fill="#050505"/>
<rect x="308.90" y="367.30" width="10.00" height="4.6" rx="2.30" fill="#050505"/>
<rect x="320.00" y="367.30" width="10.40" height="4.6" rx="2.30" fill="#050505"/>
<text x="230.8" y="367.3" font-size="3.25" text-anchor="start" fill="#333" font-weight="normal" >SUPV3L1</text>
<text x="258.4" y="366.1" font-size="3.1" text-anchor="end" fill="#333" font-weight="normal" >cryptic</text>
<text x="258.4" y="370.70000000000005" font-size="3.1" text-anchor="end" fill="#333" font-weight="normal" >canonical</text>
<path d="M259.60,365.00 L261.10,364.31 L261.10,365.69 Z" fill="#111"/>
<path d="M259.60,369.60 L261.10,368.91 L261.10,370.29 Z" fill="#111"/>
<rect x="263.6" y="377.4" width="67.8" height="15.70" fill="url(#gelbg)"/>
<rect x="275.60" y="381.70" width="9.50" height="3.4" rx="1.5" fill="rgb(209,209,209)"/>
<rect x="276.00" y="382.50" width="8.70" height="1.8" rx="0.9" fill="rgb(176,176,176)"/>
<rect x="287.10" y="381.70" width="9.20" height="3.4" rx="1.5" fill="rgb(206,206,206)"/>
<rect x="287.50" y="382.50" width="8.40" height="1.8" rx="0.9" fill="rgb(166,166,166)"/>
<rect x="264.00" y="386.10" width="10.10" height="5.2" rx="2.60" fill="#050505"/>
<rect x="275.10" y="386.10" width="10.50" height="5.2" rx="2.60" fill="#050505"/>
<rect x="286.60" y="386.10" width="10.20" height="5.2" rx="2.60" fill="#050505"/>
<rect x="297.80" y="386.10" width="10.30" height="5.2" rx="2.60" fill="#050505"/>
<rect x="308.90" y="386.10" width="10.00" height="5.2" rx="2.60" fill="#050505"/>
<rect x="320.00" y="386.10" width="10.40" height="5.2" rx="2.60" fill="#050505"/>
<text x="230.8" y="386.0" font-size="3.25" text-anchor="start" fill="#333" font-weight="normal" >RRN3</text>
<text x="258.4" y="384.5" font-size="3.1" text-anchor="end" fill="#333" font-weight="normal" >cryptic</text>
<text x="258.4" y="389.8" font-size="3.1" text-anchor="end" fill="#333" font-weight="normal" >canonical</text>
<path d="M259.60,383.40 L261.10,382.71 L261.10,384.09 Z" fill="#111"/>
<path d="M259.60,388.70 L261.10,388.01 L261.10,389.39 Z" fill="#111"/>
<text x="363.0" y="204.4" font-size="6.07" fill="#222">Separate noncompetitive qPCRs</text>
<text x="374.7" y="225.7" font-size="4.05" text-anchor="end" fill="#333" font-weight="normal" >cryptic mRNA</text>
<rect x="377.0" y="223.2" width="42.8" height="2.7" fill="#213f7d"/>
<rect x="397.1" y="223.2" width="4.9" height="2.7" fill="#b3122e"/>
<line x1="383.6" y1="219.8" x2="388.0" y2="219.8" stroke="#000" stroke-width="1.0"/>
<path d="M389.90,219.80 L387.43,220.94 L387.43,218.66 Z" fill="#000"/>
<line x1="403.0" y1="219.8" x2="398.7" y2="219.8" stroke="#b3122e" stroke-width="0.9"/>
<path d="M397.00,219.80 L399.21,218.78 L399.21,220.82 Z" fill="#b3122e"/>
<text x="363.1" y="239.1" font-size="4.05" text-anchor="end" fill="#333" font-weight="normal" >gDNA</text>
<line x1="366.5" y1="237.8" x2="433.2" y2="237.8" stroke="#8ea3c9" stroke-width="0.7"/>
<rect x="369.5" y="236.4" width="9.70" height="2.8" fill="#213f7d"/>
<rect x="383.4" y="236.4" width="10.80" height="2.8" fill="#213f7d"/>
<rect x="405.0" y="236.4" width="5.20" height="2.8" fill="#b3122e"/>
<rect x="410.2" y="236.4" width="7.40" height="2.8" fill="#213f7d"/>
<rect x="421.0" y="236.4" width="10.40" height="2.8" fill="#213f7d"/>
<path d="M394.2,237.8 L399.8,233.2 L405.2,237.8 L399.8,242.3 Z" fill="none" stroke="#213f7d" stroke-width="0.55"/>
<line x1="399.8" y1="232.7" x2="399.8" y2="228.8" stroke="#213f7d" stroke-width="0.55"/>
<path d="M399.80,227.20 L400.46,228.63 L399.14,228.63 Z" fill="#213f7d"/>
<line x1="399.7" y1="242.8" x2="399.7" y2="246.4" stroke="#213f7d" stroke-width="0.55"/>
<path d="M399.70,247.90 L399.04,246.47 L400.36,246.47 Z" fill="#213f7d"/>
<text x="375.8" y="251.5" font-size="3.95" text-anchor="end" fill="#333" font-weight="normal" >canonical mRNA</text>
<rect x="380.0" y="249.1" width="37.5" height="2.7" fill="#213f7d"/>
<line x1="399.6" y1="249.1" x2="399.6" y2="251.8" stroke="#fff" stroke-width="0.35"/>
<line x1="407.5" y1="249.1" x2="407.5" y2="251.8" stroke="#fff" stroke-width="0.35"/>
<line x1="383.6" y1="254.4" x2="388.0" y2="254.4" stroke="#000" stroke-width="1.0"/>
<path d="M389.90,254.40 L387.43,255.54 L387.43,253.26 Z" fill="#000"/>
<line x1="402.6" y1="254.4" x2="398.3" y2="254.4" stroke="#b3122e" stroke-width="0.9"/>
<path d="M396.60,254.40 L398.81,253.38 L398.81,255.42 Z" fill="#b3122e"/>
<text x="406.3" y="218.0" font-size="4.1" text-anchor="start" fill="#333" font-weight="normal" >cryptic qPCR</text>
<text x="403.0" y="258.8" font-size="4.18" text-anchor="start" fill="#333" font-weight="normal" >canonical qPCR</text>
<rect x="434.1" y="217.0" width="14.5" height="2.7" fill="#213f7d"/><rect x="444.0" y="217.0" width="4.6" height="2.7" fill="#b3122e"/>
<rect x="434.1" y="254.6" width="14.5" height="2.8" fill="#213f7d"/>
<path d="M396.2,218.6 C403,211.5 418,209.2 429.8,211.4 C431.2,211.8 432.0,212.3 432.6,212.8" fill="none" stroke="#3b5a98" stroke-width="0.65"/>
<path d="M434.20,214.00 L432.38,213.61 L433.32,212.36 Z" fill="#3b5a98"/>
<path d="M396.2,255.6 C401,261.5 416,265 429.5,262.3 C431,261.9 432.0,261.4 432.7,261.0" fill="none" stroke="#3b5a98" stroke-width="0.65"/>
<path d="M434.20,259.90 L433.32,261.54 L432.38,260.29 Z" fill="#3b5a98"/>
<line x1="443.8" y1="224.0" x2="443.8" y2="251.0" stroke="#3b5a98" stroke-width="0.5"/>
<path d="M443.80,222.40 L444.28,223.44 L443.32,223.44 Z" fill="#3b5a98"/>
<path d="M443.80,252.60 L443.32,251.56 L444.28,251.56 Z" fill="#3b5a98"/>
<rect x="436.5" y="232.2" width="30.5" height="8.6" fill="#fff"/>
<text x="451.9" y="236.2" font-size="4.0" text-anchor="middle" fill="#333" font-weight="normal" >cryptic/canonical</text>
<text x="451.9" y="241.0" font-size="4.0" text-anchor="middle" fill="#333" font-weight="normal" >ratio</text>
<line x1="370.3" y1="279.7" x2="370.3" y2="340.59999999999997" stroke="#111" stroke-width="0.9"/>
<line x1="369.85" y1="340.2" x2="428.6" y2="340.2" stroke="#111" stroke-width="0.9"/>
<line x1="367.90000000000003" y1="340.20" x2="370.3" y2="340.20" stroke="#111" stroke-width="0.75"/>
<line x1="369.1" y1="336.30" x2="370.3" y2="336.30" stroke="#111" stroke-width="0.4"/>
<line x1="369.1" y1="332.40" x2="370.3" y2="332.40" stroke="#111" stroke-width="0.4"/>
<line x1="369.1" y1="328.50" x2="370.3" y2="328.50" stroke="#111" stroke-width="0.4"/>
<line x1="369.1" y1="324.60" x2="370.3" y2="324.60" stroke="#111" stroke-width="0.4"/>
<text x="364.8" y="341.65" font-size="4.0" text-anchor="end" fill="#333" font-weight="normal" >0.00</text>
<line x1="367.90000000000003" y1="320.70" x2="370.3" y2="320.70" stroke="#111" stroke-width="0.75"/>
<line x1="369.1" y1="316.80" x2="370.3" y2="316.80" stroke="#111" stroke-width="0.4"/>
<line x1="369.1" y1="312.90" x2="370.3" y2="312.90" stroke="#111" stroke-width="0.4"/>
<line x1="369.1" y1="309.00" x2="370.3" y2="309.00" stroke="#111" stroke-width="0.4"/>
<line x1="369.1" y1="305.10" x2="370.3" y2="305.10" stroke="#111" stroke-width="0.4"/>
<text x="364.8" y="322.15" font-size="4.0" text-anchor="end" fill="#333" font-weight="normal" >0.05</text>
<line x1="367.90000000000003" y1="301.20" x2="370.3" y2="301.20" stroke="#111" stroke-width="0.75"/>
<line x1="369.1" y1="297.30" x2="370.3" y2="297.30" stroke="#111" stroke-width="0.4"/>
<line x1="369.1" y1="293.40" x2="370.3" y2="293.40" stroke="#111" stroke-width="0.4"/>
<line x1="369.1" y1="289.50" x2="370.3" y2="289.50" stroke="#111" stroke-width="0.4"/>
<line x1="369.1" y1="285.60" x2="370.3" y2="285.60" stroke="#111" stroke-width="0.4"/>
<text x="364.8" y="302.65" font-size="4.0" text-anchor="end" fill="#333" font-weight="normal" >0.10</text>
<line x1="367.90000000000003" y1="281.70" x2="370.3" y2="281.70" stroke="#111" stroke-width="0.75"/>
<text x="364.8" y="283.15" font-size="4.0" text-anchor="end" fill="#333" font-weight="normal" >0.15</text>
<text x="400.3" y="275.0" font-size="6.45" text-anchor="middle" fill="#222" font-weight="normal" >PHGDH</text>
<text x="0" y="0" font-size="4.3" fill="#333" text-anchor="middle" transform="translate(351.2,310.9) rotate(-90)">Cryptic/canonical mRNA</text>
<line x1="376.8" y1="340.2" x2="376.8" y2="342.8" stroke="#111" stroke-width="0.75"/>
<rect x="373.90" y="337.2" width="5.8" height="3.00" fill="#cde0d5"/>
<line x1="376.8" y1="336.3" x2="376.8" y2="338.4" stroke="#5c957a" stroke-width="0.5"/>
<line x1="375.30" y1="336.3" x2="378.30" y2="336.3" stroke="#5c957a" stroke-width="0.5"/>
<line x1="375.30" y1="338.4" x2="378.30" y2="338.4" stroke="#5c957a" stroke-width="0.5"/>
<circle cx="375.60" cy="337.5" r="0.8" fill="#5c957a"/>
<circle cx="376.80" cy="337.0" r="0.8" fill="#5c957a"/>
<circle cx="378.00" cy="337.3" r="0.8" fill="#5c957a"/>
<text x="0" y="0" font-size="4.2" fill="#333" text-anchor="end" transform="translate(380.20,349.20) rotate(-45)">NALM6 WT</text>
<line x1="386.0" y1="340.2" x2="386.0" y2="342.8" stroke="#111" stroke-width="0.75"/>
<rect x="383.10" y="315.0" width="5.8" height="25.20" fill="#d8ebc9"/>
<line x1="386.0" y1="310.5" x2="386.0" y2="319.5" stroke="#7fc05b" stroke-width="0.5"/>
<line x1="384.50" y1="310.5" x2="387.50" y2="310.5" stroke="#7fc05b" stroke-width="0.5"/>
<line x1="384.50" y1="319.5" x2="387.50" y2="319.5" stroke="#7fc05b" stroke-width="0.5"/>
<circle cx="386.00" cy="307.8" r="0.8" fill="#7fc05b"/>
<circle cx="385.40" cy="316" r="0.8" fill="#7fc05b"/>
<circle cx="386.60" cy="319.5" r="0.8" fill="#7fc05b"/>
<circle cx="386.00" cy="313" r="0.8" fill="#7fc05b"/>
<text x="0" y="0" font-size="4.2" fill="#333" text-anchor="end" transform="translate(389.40,349.20) rotate(-45)">Nalm6 H662Q</text>
<line x1="395.3" y1="340.2" x2="395.3" y2="342.8" stroke="#111" stroke-width="0.75"/>
<rect x="392.40" y="292.5" width="5.8" height="47.70" fill="#ecc1b9"/>
<line x1="395.3" y1="289.0" x2="395.3" y2="296.5" stroke="#c21a3a" stroke-width="0.5"/>
<line x1="393.80" y1="289.0" x2="396.80" y2="289.0" stroke="#c21a3a" stroke-width="0.5"/>
<line x1="393.80" y1="296.5" x2="396.80" y2="296.5" stroke="#c21a3a" stroke-width="0.5"/>
<circle cx="395.30" cy="285.8" r="0.8" fill="#c21a3a"/>
<circle cx="394.70" cy="296" r="0.8" fill="#c21a3a"/>
<circle cx="395.90" cy="299.3" r="0.8" fill="#c21a3a"/>
<circle cx="395.30" cy="291" r="0.8" fill="#c21a3a"/>
<text x="0" y="0" font-size="4.2" fill="#333" text-anchor="end" transform="translate(398.70,349.20) rotate(-45)">HNT34</text>
<line x1="404.5" y1="340.2" x2="404.5" y2="342.8" stroke="#111" stroke-width="0.75"/>
<rect x="401.60" y="309.4" width="5.8" height="30.80" fill="#fadcb4"/>
<line x1="404.5" y1="303.5" x2="404.5" y2="315.0" stroke="#f1a33a" stroke-width="0.5"/>
<line x1="403.00" y1="303.5" x2="406.00" y2="303.5" stroke="#f1a33a" stroke-width="0.5"/>
<line x1="403.00" y1="315.0" x2="406.00" y2="315.0" stroke="#f1a33a" stroke-width="0.5"/>
<circle cx="404.50" cy="298.6" r="0.8" fill="#f1a33a"/>
<circle cx="404.10" cy="311.6" r="0.8" fill="#f1a33a"/>
<circle cx="404.90" cy="315" r="0.8" fill="#f1a33a"/>
<text x="0" y="0" font-size="4.2" fill="#333" text-anchor="end" transform="translate(407.90,349.20) rotate(-45)">MUTZ3</text>
<line x1="413.7" y1="340.2" x2="413.7" y2="342.8" stroke="#111" stroke-width="0.75"/>
<rect x="410.80" y="339.0" width="5.8" height="1.20" fill="#c9d0e6"/>
<circle cx="412.70" cy="339.1" r="0.8" fill="#223f8a"/>
<circle cx="413.70" cy="338.8" r="0.8" fill="#223f8a"/>
<circle cx="414.70" cy="339.1" r="0.8" fill="#223f8a"/>
<text x="0" y="0" font-size="4.2" fill="#333" text-anchor="end" transform="translate(417.10,349.20) rotate(-45)">CMK1</text>
<line x1="423.0" y1="340.2" x2="423.0" y2="342.8" stroke="#111" stroke-width="0.75"/>
<rect x="420.10" y="332.3" width="5.8" height="7.90" fill="#dacbe8"/>
<line x1="423.0" y1="331.0" x2="423.0" y2="333.5" stroke="#7a4aa6" stroke-width="0.5"/>
<line x1="421.50" y1="331.0" x2="424.50" y2="331.0" stroke="#7a4aa6" stroke-width="0.5"/>
<line x1="421.50" y1="333.5" x2="424.50" y2="333.5" stroke="#7a4aa6" stroke-width="0.5"/>
<circle cx="421.50" cy="332" r="0.8" fill="#7a4aa6"/>
<circle cx="423.00" cy="331.6" r="0.8" fill="#7a4aa6"/>
<circle cx="424.50" cy="332" r="0.8" fill="#7a4aa6"/>
<text x="0" y="0" font-size="4.2" fill="#333" text-anchor="end" transform="translate(426.40,349.20) rotate(-45)">KG1</text>
<line x1="459.2" y1="283.6" x2="459.2" y2="340.59999999999997" stroke="#111" stroke-width="0.9"/>
<line x1="458.75" y1="340.2" x2="513.0" y2="340.2" stroke="#111" stroke-width="0.9"/>
<line x1="456.8" y1="340.20" x2="459.2" y2="340.20" stroke="#111" stroke-width="0.75"/>
<line x1="458.0" y1="336.62" x2="459.2" y2="336.62" stroke="#111" stroke-width="0.4"/>
<line x1="458.0" y1="333.04" x2="459.2" y2="333.04" stroke="#111" stroke-width="0.4"/>
<line x1="458.0" y1="329.46" x2="459.2" y2="329.46" stroke="#111" stroke-width="0.4"/>
<line x1="458.0" y1="325.88" x2="459.2" y2="325.88" stroke="#111" stroke-width="0.4"/>
<text x="454.2" y="341.65" font-size="4.0" text-anchor="end" fill="#333" font-weight="normal" >0.00</text>
<line x1="456.8" y1="322.30" x2="459.2" y2="322.30" stroke="#111" stroke-width="0.75"/>
<line x1="458.0" y1="318.72" x2="459.2" y2="318.72" stroke="#111" stroke-width="0.4"/>
<line x1="458.0" y1="315.14" x2="459.2" y2="315.14" stroke="#111" stroke-width="0.4"/>
<line x1="458.0" y1="311.56" x2="459.2" y2="311.56" stroke="#111" stroke-width="0.4"/>
<line x1="458.0" y1="307.98" x2="459.2" y2="307.98" stroke="#111" stroke-width="0.4"/>
<text x="454.2" y="323.75" font-size="4.0" text-anchor="end" fill="#333" font-weight="normal" >0.05</text>
<line x1="456.8" y1="304.40" x2="459.2" y2="304.40" stroke="#111" stroke-width="0.75"/>
<line x1="458.0" y1="300.82" x2="459.2" y2="300.82" stroke="#111" stroke-width="0.4"/>
<line x1="458.0" y1="297.24" x2="459.2" y2="297.24" stroke="#111" stroke-width="0.4"/>
<line x1="458.0" y1="293.66" x2="459.2" y2="293.66" stroke="#111" stroke-width="0.4"/>
<line x1="458.0" y1="290.08" x2="459.2" y2="290.08" stroke="#111" stroke-width="0.4"/>
<text x="454.2" y="305.85" font-size="4.0" text-anchor="end" fill="#333" font-weight="normal" >0.10</text>
<line x1="456.8" y1="286.50" x2="459.2" y2="286.50" stroke="#111" stroke-width="0.75"/>
<text x="454.2" y="287.95" font-size="4.0" text-anchor="end" fill="#333" font-weight="normal" >0.15</text>
<text x="485.9" y="275.0" font-size="6.45" text-anchor="middle" fill="#222" font-weight="normal" >COPS2</text>
<text x="0" y="0" font-size="4.3" fill="#333" text-anchor="middle" transform="translate(440.2,312.9) rotate(-90)">Cryptic/canonical mRNA</text>
<line x1="464.3" y1="340.2" x2="464.3" y2="342.8" stroke="#111" stroke-width="0.75"/>
<rect x="461.40" y="339.0" width="5.8" height="1.20" fill="#cde0d5"/>
<circle cx="463.10" cy="339.2" r="0.8" fill="#5c957a"/>
<circle cx="464.30" cy="338.9" r="0.8" fill="#5c957a"/>
<circle cx="465.50" cy="339.2" r="0.8" fill="#5c957a"/>
<text x="0" y="0" font-size="4.2" fill="#333" text-anchor="end" transform="translate(467.70,349.20) rotate(-45)">NALM6 WT</text>
<line x1="473.0" y1="340.2" x2="473.0" y2="342.8" stroke="#111" stroke-width="0.75"/>
<rect x="470.10" y="324.4" width="5.8" height="15.80" fill="#d8ebc9"/>
<line x1="473.0" y1="316.0" x2="473.0" y2="331.8" stroke="#7fc05b" stroke-width="0.5"/>
<line x1="471.50" y1="316.0" x2="474.50" y2="316.0" stroke="#7fc05b" stroke-width="0.5"/>
<line x1="471.50" y1="331.8" x2="474.50" y2="331.8" stroke="#7fc05b" stroke-width="0.5"/>
<circle cx="473.00" cy="316" r="0.8" fill="#7fc05b"/>
<circle cx="473.00" cy="320.5" r="0.8" fill="#7fc05b"/>
<circle cx="473.00" cy="327" r="0.8" fill="#7fc05b"/>
<circle cx="473.00" cy="331.5" r="0.8" fill="#7fc05b"/>
<text x="0" y="0" font-size="4.2" fill="#333" text-anchor="end" transform="translate(476.40,349.20) rotate(-45)">Nalm6 H662Q</text>
<line x1="481.5" y1="340.2" x2="481.5" y2="342.8" stroke="#111" stroke-width="0.75"/>
<rect x="478.60" y="307.8" width="5.8" height="32.40" fill="#ecc1b9"/>
<line x1="481.5" y1="299.3" x2="481.5" y2="315.0" stroke="#c21a3a" stroke-width="0.5"/>
<line x1="480.00" y1="299.3" x2="483.00" y2="299.3" stroke="#c21a3a" stroke-width="0.5"/>
<line x1="480.00" y1="315.0" x2="483.00" y2="315.0" stroke="#c21a3a" stroke-width="0.5"/>
<circle cx="481.50" cy="291.4" r="0.8" fill="#c21a3a"/>
<circle cx="481.50" cy="312.7" r="0.8" fill="#c21a3a"/>
<circle cx="481.50" cy="319.5" r="0.8" fill="#c21a3a"/>
<circle cx="481.50" cy="309" r="0.8" fill="#c21a3a"/>
<text x="0" y="0" font-size="4.2" fill="#333" text-anchor="end" transform="translate(484.90,349.20) rotate(-45)">HNT34</text>
<line x1="490.0" y1="340.2" x2="490.0" y2="342.8" stroke="#111" stroke-width="0.75"/>
<rect x="487.10" y="339.0" width="5.8" height="1.20" fill="#fadcb4"/>
<circle cx="488.80" cy="339.0" r="0.8" fill="#f1a33a"/>
<circle cx="490.00" cy="339.0" r="0.8" fill="#f1a33a"/>
<circle cx="491.20" cy="339.0" r="0.8" fill="#f1a33a"/>
<text x="0" y="0" font-size="4.2" fill="#333" text-anchor="end" transform="translate(493.40,349.20) rotate(-45)">MUTZ3</text>
<line x1="498.8" y1="340.2" x2="498.8" y2="342.8" stroke="#111" stroke-width="0.75"/>
<rect x="495.90" y="339.3" width="5.8" height="0.90" fill="#c9d0e6"/>
<circle cx="497.60" cy="339.4" r="0.8" fill="#223f8a"/>
<circle cx="498.80" cy="339.4" r="0.8" fill="#223f8a"/>
<circle cx="500.00" cy="339.4" r="0.8" fill="#223f8a"/>
<text x="0" y="0" font-size="4.2" fill="#333" text-anchor="end" transform="translate(502.20,349.20) rotate(-45)">CMK1</text>
<line x1="507.4" y1="340.2" x2="507.4" y2="342.8" stroke="#111" stroke-width="0.75"/>
<rect x="504.50" y="339.3" width="5.8" height="0.90" fill="#dacbe8"/>
<circle cx="506.20" cy="339.4" r="0.8" fill="#7a4aa6"/>
<circle cx="508.60" cy="339.4" r="0.8" fill="#7a4aa6"/>
<text x="0" y="0" font-size="4.2" fill="#333" text-anchor="end" transform="translate(510.80,349.20) rotate(-45)">KG1</text>
<path d="M473.2,300 L473.2,280.5 L490.7,280.5 L490.7,338.5" fill="none" stroke="#111" stroke-width="0.75"/>
<path d="M481.4,288.6 L481.4,286.3 L490.7,286.3" fill="none" stroke="#111" stroke-width="0.75"/>
<text x="481.8" y="279.6" font-size="3.3" text-anchor="middle" fill="#444" font-weight="normal" >*</text>
<text x="486.0" y="285.0" font-size="3.3" text-anchor="middle" fill="#444" font-weight="normal" >*</text>
<rect x="0" y="0" width="520" height="1" fill="#000"/><rect x="0" y="0" width="1" height="401" fill="#000"/><rect x="518.8" y="0" width="1.2" height="401" fill="#000"/><rect x="0" y="399.3" width="520" height="1.7" fill="#000"/>
</svg>
</body></html>
